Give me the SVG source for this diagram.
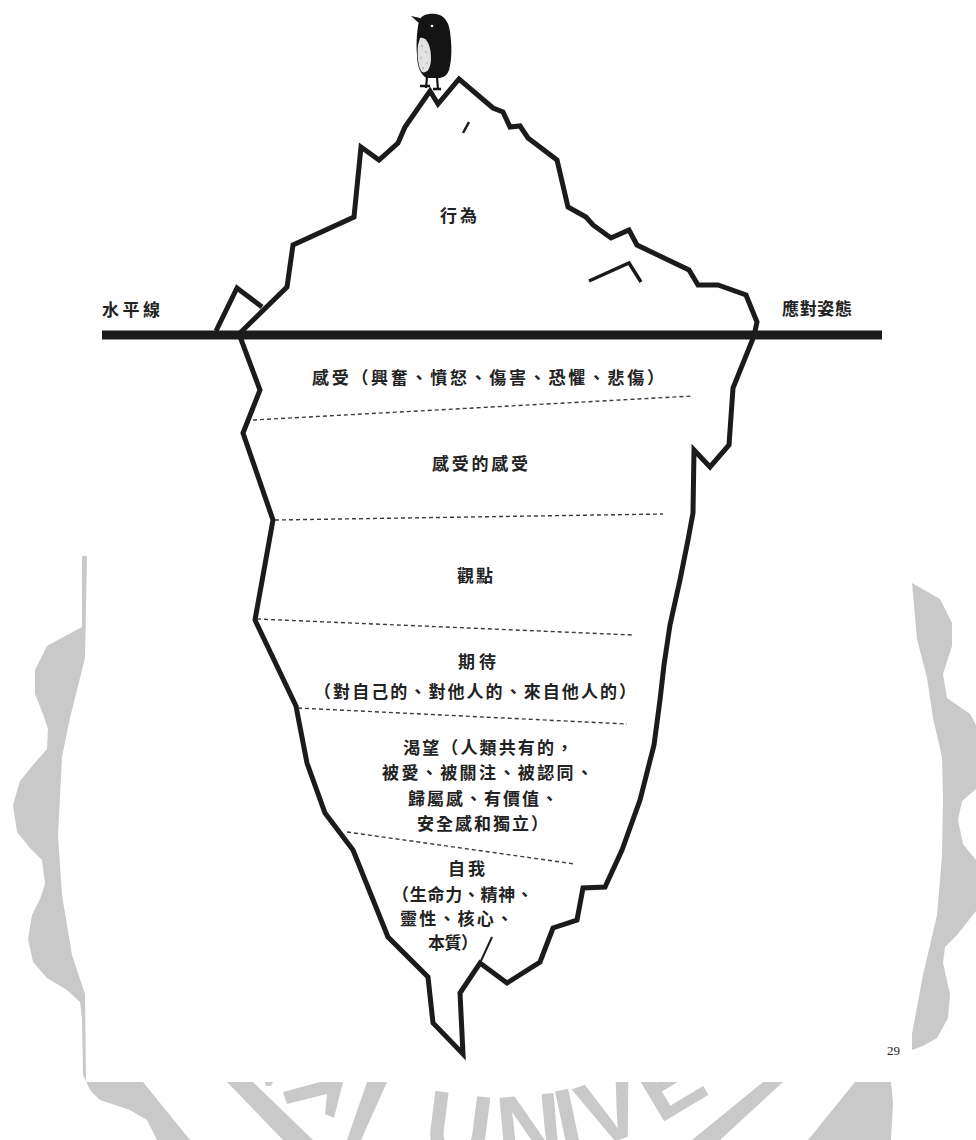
<svg xmlns="http://www.w3.org/2000/svg" width="976" height="1140" viewBox="0 0 976 1140">
  <defs>
    <style>
      .ice { fill: none; stroke: #1b1b1b; stroke-width: 5; stroke-linejoin: miter; stroke-miterlimit: 6; }
      .mark { fill: none; stroke: #1b1b1b; stroke-width: 2.5; stroke-linecap: butt; }
      .layer { fill: none; stroke: #3a3a3a; stroke-width: 1.4; stroke-dasharray: 4 3; }
      .lbl { font-family: 'Liberation Serif', 'Noto Sans CJK TC', serif; font-size: 17px; font-weight: 700; fill: #222; }
      .seal { fill: #c9c9c9; }
      .seal-text { font-family: 'Liberation Sans', Arial, sans-serif; font-size: 92px; font-weight: 700; fill: #c9c9c9; }
      .pg { font-family: 'Liberation Serif', serif; font-size: 13px; fill: #222; }
    </style>
    <clipPath id="belowPage">
      <rect x="0" y="1082" width="976" height="58"/>
    </clipPath>
  </defs>

  <rect width="976" height="1140" fill="#fff"/>

  <!-- faint seal watermark peeking out around the page -->
  <g id="watermark">
    <path class="seal" d="M82,556 L82,627 L67,635 L47,646 L35,670 L35,694 L43,714 L48,729 L47,749 L33,765 L20,781 L13,805 L17,832 L30,848 L42,860 L45,884 L40,899 L32,915 L28,939 L33,962 L47,978 L67,990 L80,1002 L82,1018 L83,1075 L90,1090 L100,1100 L130,1110 L147,1120 L157,1140 L190,1140 L143,1082 L86,1082 L85,994 L72,955 L62,895 L58,836 L62,757 L70,718 L85,658 L87,556 Z"/>
    <path class="seal" d="M912,583 L940,599 L952,623 L952,646 L943,674 L947,698 L970,714 L976,725 L976,789 L962,801 L958,820 L963,844 L976,860 L976,911 L957,935 L945,947 L943,963 L950,994 L948,1018 L937,1038 L923,1046 L912,1050 L912,1034 L923,975 L937,915 L942,856 L943,797 L942,757 L933,718 L927,678 L917,639 Z"/>
    <path class="seal" d="M227,1082 L253,1082 L313,1140 L283,1140 Z"/>
    <path class="seal" d="M265,1082 L273,1082 L271,1086 L266,1086 Z"/>
    <path class="seal" d="M283,1092 L320,1082 L343,1082 L334,1118 L325,1114 L327,1094 L287,1104 Z"/>
    <path class="seal" d="M367,1082 L387,1082 L361,1140 L347,1140 Z"/>
    <path class="seal" d="M763,1082 L783,1082 L720,1140 L692,1140 Z"/>
    <path class="seal" d="M855,1082 L891,1082 L893,1103 L891,1140 L808,1140 Z"/>
    <g clip-path="url(#belowPage)">
      <text class="seal-text" x="500" y="1160" text-anchor="middle" transform="rotate(7.2 500 800)">U</text>
      <text class="seal-text" x="500" y="1160" text-anchor="middle" transform="rotate(-5.1 500 800)">N</text>
      <text class="seal-text" x="500" y="1160" text-anchor="middle" transform="rotate(-12 500 800)">I</text>
      <text class="seal-text" x="500" y="1160" text-anchor="middle" transform="rotate(-19.7 500 800)">V</text>
      <text class="seal-text" x="500" y="1160" text-anchor="middle" transform="rotate(-31 500 800)">E</text>
    </g>
  </g>

  <!-- the iceberg outline with its waterline -->
  <g id="iceberg">
    <path class="ice" d="M239,334 L287,287 L293,245 L354,217 L361,147 L379,160 L398,143 L405,127 L430,91 L438,104 L459,79 L493,108 L503,112 L510,127 L520,126 L528,138 L557,160 L568,207 L586,217 L593,225 L611,238 L629,230 L637,245 L664,258 L689,270 L698,285 L718,285 L746,295 L757,322 L754,336 L733,388 L729,445 L710,467 L694,450 L693,513 L688,540 L680,580 L670,625 L664,665 L660,700 L654,745 L640,800 L622,850 L605,887 L583,888 L577,920 L553,928 L540,962 L507,983 L480,963 L460,993 L463,1054 L433,1023 L428,977 L388,937 L353,850 L325,813 L307,763 L300,727 L296,706 L255,620 L273,520 L243,433 L260,390 Z"/>
    <path class="ice" d="M216,331 L237,288 L262,307"/>
    <path class="mark" d="M463,133 L469,122"/>
    <path class="ice" style="stroke-width:3.5" d="M589,281 L629,263 L641,282"/>
    <path class="mark" style="stroke-width:2" d="M480,963 L492,937"/>
    <line id="waterline" x1="102" y1="335" x2="882" y2="335" stroke="#1b1b1b" stroke-width="9"/>
  </g>

  <!-- small bird perched on the peak -->
  <g id="bird">
    <path fill="#141414" d="M419,21 C421,15 428,13 436,14 C444,15 449,22 450,32 C452,45 452,60 449,70 C447,76 443,78 438,78 L427,78 C421,76 417,66 417,55 C416,43 417,30 419,21 Z"/>
    <path fill="#141414" d="M420,18 L411,16 L420,24 Z"/>
    <path fill="#e2e2e2" d="M420,38 C426,36 431,45 431,58 C431,68 427,74 422,72 C418,68 417,55 418,45 Z"/>
    <g fill="#9a9a9a">
      <circle cx="422" cy="46" r="0.8"/>
      <circle cx="426" cy="52" r="0.8"/>
      <circle cx="421" cy="58" r="0.8"/>
      <circle cx="427" cy="63" r="0.8"/>
      <circle cx="423" cy="68" r="0.8"/>
    </g>
    <circle cx="432" cy="26" r="1.3" fill="#fff"/>
    <path fill="none" stroke="#141414" stroke-width="2.2" d="M427,77 L426,88 M437,77 L438,90"/>
    <path fill="none" stroke="#141414" stroke-width="2.6" d="M420,86 L430,86 M433,89 L441,89"/>
  </g>

  <!-- layer separators below the waterline -->
  <g id="connectors">
    <line class="layer" x1="253" y1="420" x2="693" y2="396"/>
    <line class="layer" x1="275" y1="520" x2="663" y2="514"/>
    <line class="layer" x1="257" y1="619" x2="633" y2="635"/>
    <line class="layer" x1="298" y1="708" x2="627" y2="724"/>
    <line class="layer" x1="347" y1="832" x2="575" y2="864"/>
  </g>

  <g id="behaviour"><text class="lbl" x="440" y="222" textLength="37" lengthAdjust="spacing">行為</text></g>
  <g id="horizon"><text class="lbl" x="102" y="316" textLength="58" lengthAdjust="spacing">水平線</text></g>
  <g id="coping"><text class="lbl" x="782" y="315" textLength="70" lengthAdjust="spacing">應對姿態</text></g>
  <g id="feelings"><text class="lbl" x="312" y="384" textLength="352" lengthAdjust="spacing">感受（興奮、憤怒、傷害、恐懼、悲傷）</text></g>
  <g id="feelings-about-feelings"><text class="lbl" x="432" y="470" textLength="96" lengthAdjust="spacing">感受的感受</text></g>
  <g id="perceptions"><text class="lbl" x="457" y="582" textLength="36" lengthAdjust="spacing">觀點</text></g>
  <g id="expectations">
    <text class="lbl" x="458" y="668" textLength="38" lengthAdjust="spacing">期待</text>
    <text class="lbl" x="314" y="698" textLength="322" lengthAdjust="spacing">（對自己的、對他人的、來自他人的）</text>
  </g>
  <g id="yearnings">
    <text class="lbl" x="403" y="754" textLength="170" lengthAdjust="spacing">渴望（人類共有的，</text>
    <text class="lbl" x="382" y="779" textLength="211" lengthAdjust="spacing">被愛、被關注、被認同、</text>
    <text class="lbl" x="408" y="805" textLength="150" lengthAdjust="spacing">歸屬感、有價值、</text>
    <text class="lbl" x="417" y="830" textLength="131" lengthAdjust="spacing">安全感和獨立）</text>
  </g>
  <g id="self">
    <text class="lbl" x="448" y="875" textLength="37" lengthAdjust="spacing">自我</text>
    <text class="lbl" x="392" y="901" textLength="141" lengthAdjust="spacing">（生命力、精神、</text>
    <text class="lbl" x="400" y="925" textLength="113" lengthAdjust="spacing">靈性、核心、</text>
    <text class="lbl" x="428" y="949" textLength="50" lengthAdjust="spacing">本質）</text>
  </g>

  <text class="pg" x="887" y="1055">29</text>
</svg>
